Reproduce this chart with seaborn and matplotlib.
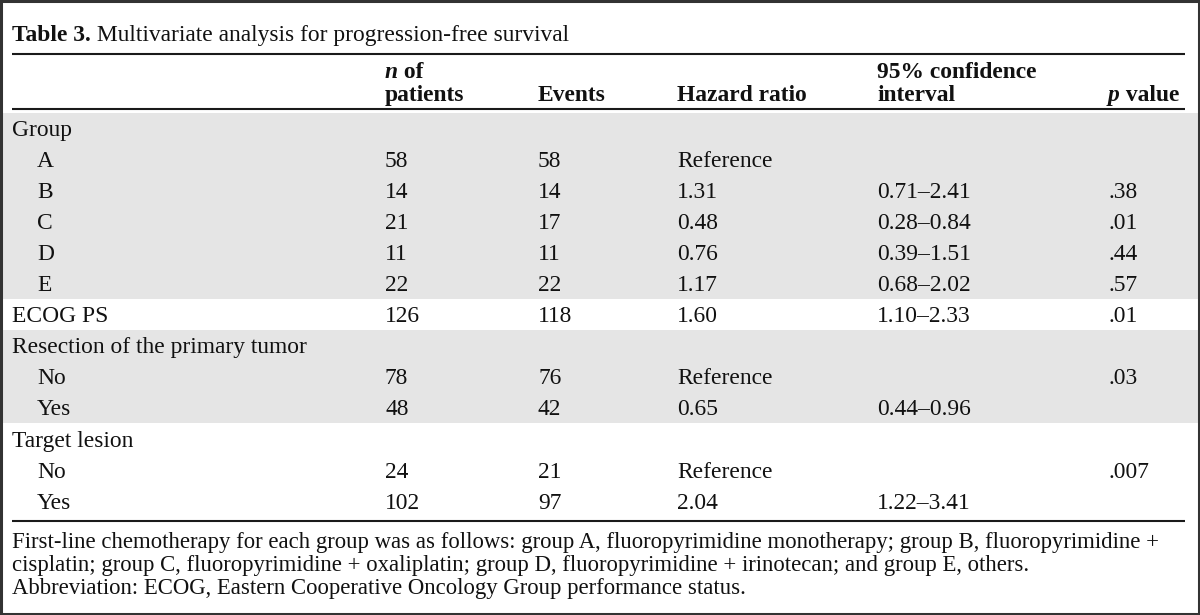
import matplotlib
matplotlib.use("Agg")
import matplotlib.pyplot as plt
import seaborn as sns
from matplotlib.patches import Rectangle

# ---------------- data ----------------
title_bold = "Table 3."
title_text = "Multivariate analysis for progression-free survival"

row_labels = ["Group", "A", "B", "C", "D", "E", "ECOG PS",
              "Resection of the primary tumor", "No", "Yes",
              "Target lesion", "No", "Yes"]
row_indent = [0, 1, 1, 1, 1, 1, 0, 0, 1, 1, 0, 1, 1]
n_patients = [None, 58, 14, 21, 11, 22, 126, None, 78, 48, None, 24, 102]
events = [None, 58, 14, 17, 11, 22, 118, None, 76, 42, None, 21, 97]
hazard_ratio = [None, "Reference", 1.31, 0.48, 0.76, 1.17, 1.60, None,
                "Reference", 0.65, None, "Reference", 2.04]
ci_low = [None, None, 0.71, 0.28, 0.39, 0.68, 1.10, None, None, 0.44, None, None, 1.22]
ci_high = [None, None, 2.41, 0.84, 1.51, 2.02, 2.33, None, None, 0.96, None, None, 3.41]
p_values = ["", "", ".38", ".01", ".44", ".57", ".01", "", ".03", "", "", ".007", ""]
# shaded sections (first row index, last row index)
shaded_sections = [(0, 5), (7, 9)]

footnotes = [
    "First-line chemotherapy for each group was as follows: group A, fluoropyrimidine monotherapy; group B, fluoropyrimidine +",
    "cisplatin; group C, fluoropyrimidine + oxaliplatin; group D, fluoropyrimidine + irinotecan; and group E, others.",
    "Abbreviation: ECOG, Eastern Cooperative Oncology Group performance status.",
]

# ---------------- style ----------------
sns.set_theme(style="white")
plt.rcParams["font.family"] = ["Liberation Serif", "DejaVu Serif"]

W, H = 1200, 615
fig = plt.figure(figsize=(W / 100, H / 100), dpi=100)
ax = fig.add_axes([0, 0, 1, 1])
ax.set_xlim(0, W)
ax.set_ylim(H, 0)
ax.axis("off")

FS = 16.9
FS_NOTE = 16.4
TXT = "#111111"
GRAY = "#e5e5e5"

left = 12
indent_w = 25
col_x = [385, 538, 677, 877, 1108]
right = 1185

row0_base = 136
row_step = 31.05


def base(i):
    return row0_base + i * row_step


# shaded bands
for a, b in shaded_sections:
    top = base(a) - 23
    bot = base(b) + 8
    ax.axhspan(top, bot, xmin=2 / W, xmax=(W - 2) / W, color=GRAY, lw=0, zorder=0)

# rules
for y in (54, 109, 521):
    ax.plot([left, right], [y, y], color="#1a1a1a", lw=1.5, solid_capstyle="butt", zorder=2)

# title
t = ax.text(left, 41, title_bold, fontsize=FS, fontweight="bold", color=TXT, va="baseline")
ax.annotate(" " + title_text, xy=(1, 0), xycoords=t, fontsize=FS, color=TXT, va="bottom")

# header
hn = ax.text(col_x[0], 78, "n", fontsize=FS, fontweight="bold", fontstyle="italic",
             color=TXT, va="baseline")
ax.annotate(" of", xy=(1, 0), xycoords=hn, fontsize=FS, fontweight="bold", color=TXT, va="bottom")
ax.text(col_x[0], 101, "patients", fontsize=FS, fontweight="bold", color=TXT, va="baseline")
ax.text(col_x[1], 101, "Events", fontsize=FS, fontweight="bold", color=TXT, va="baseline")
ax.text(col_x[2], 101, "Hazard ratio", fontsize=FS, fontweight="bold", color=TXT, va="baseline")
ax.text(col_x[3], 78, "95% confidence", fontsize=FS, fontweight="bold", color=TXT, va="baseline")
ax.text(col_x[3], 101, "interval", fontsize=FS, fontweight="bold", color=TXT, va="baseline")
hp = ax.text(col_x[4], 101, "p", fontsize=FS, fontweight="bold", fontstyle="italic",
             color=TXT, va="baseline")
ax.annotate(" value", xy=(1, 0), xycoords=hp, fontsize=FS, fontweight="bold", color=TXT, va="bottom")


def fmt_hr(v):
    if v is None:
        return ""
    if isinstance(v, str):
        return v
    return f"{v:.2f}"


for i, lab in enumerate(row_labels):
    y = base(i)
    ax.text(left + row_indent[i] * indent_w, y, lab, fontsize=FS, color=TXT, va="baseline")
    if n_patients[i] is not None:
        ax.text(col_x[0], y, f"{n_patients[i]}", fontsize=FS, color=TXT, va="baseline")
    if events[i] is not None:
        ax.text(col_x[1], y, f"{events[i]}", fontsize=FS, color=TXT, va="baseline")
    ax.text(col_x[2], y, fmt_hr(hazard_ratio[i]), fontsize=FS, color=TXT, va="baseline")
    if ci_low[i] is not None:
        ax.text(col_x[3], y, f"{ci_low[i]:.2f}\u2013{ci_high[i]:.2f}", fontsize=FS,
                color=TXT, va="baseline")
    ax.text(col_x[4], y, p_values[i], fontsize=FS, color=TXT, va="baseline")

# footnotes
for k, line in enumerate(footnotes):
    ax.text(left, 548 + k * 23.2, line, fontsize=FS_NOTE, color=TXT, va="baseline")

# outer border
fig.patches.append(Rectangle((0.001, 0.002), 0.998, 0.996, transform=fig.transFigure,
                             fill=False, edgecolor="#333333", lw=2.2))

fig.savefig("out.png", dpi=100)
